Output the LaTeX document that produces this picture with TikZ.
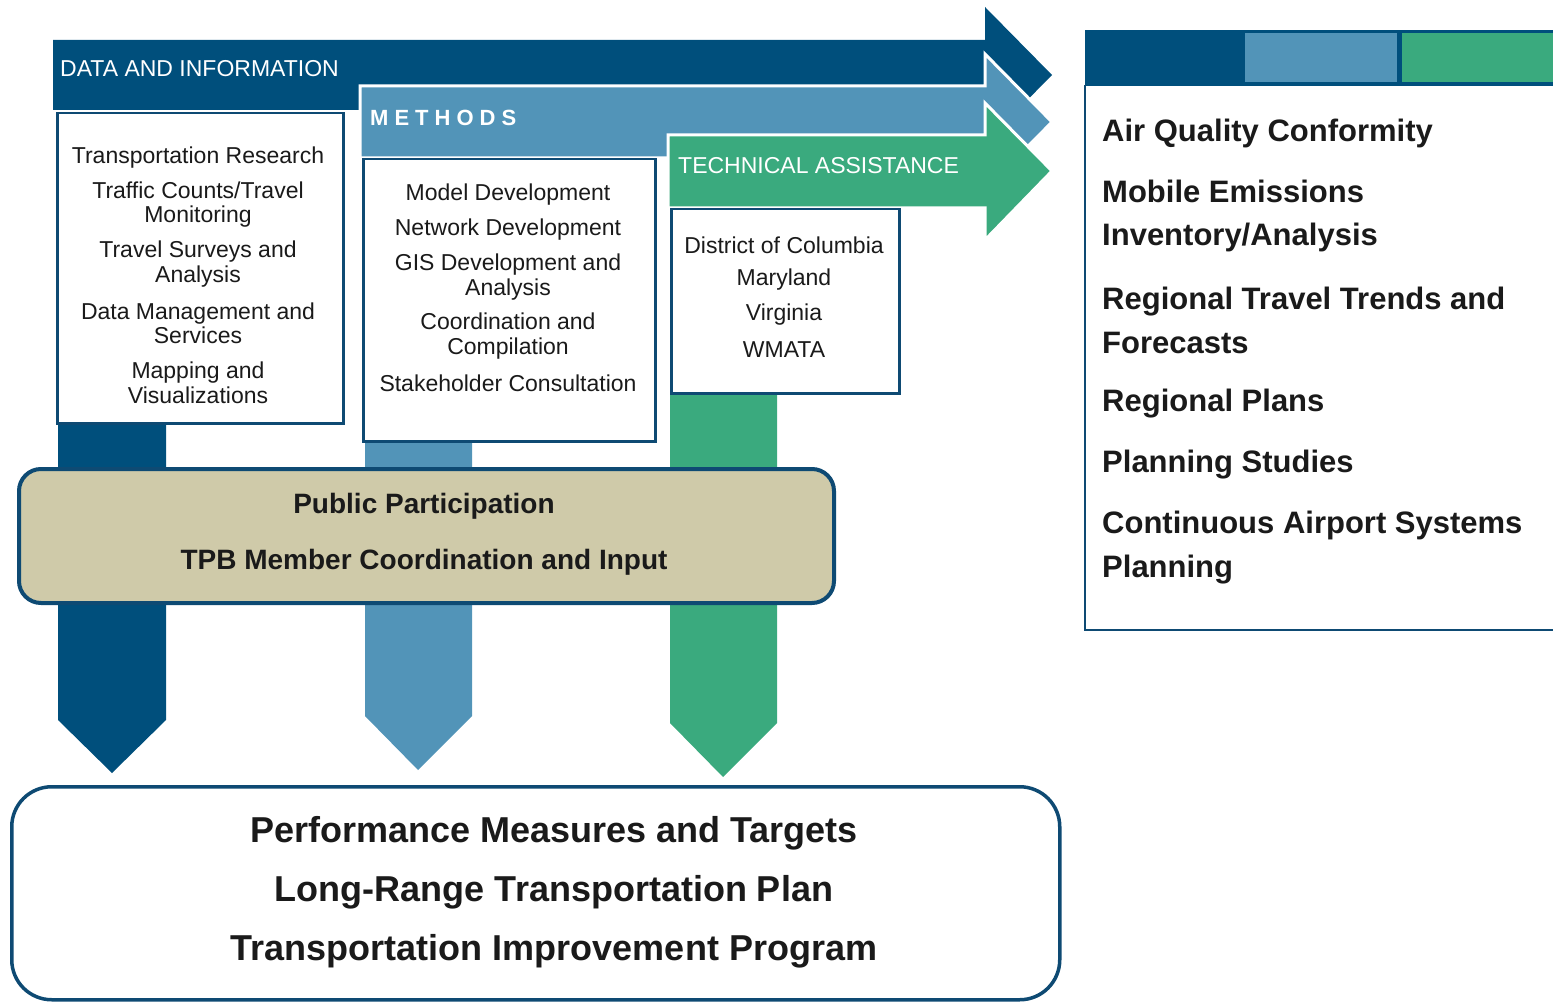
\documentclass[tikz,border=0pt]{standalone}
\usepackage{fontspec}
\setmainfont{Liberation Sans}
\definecolor{dblue}{HTML}{004F7C}
\definecolor{mblue}{HTML}{5294B8}
\definecolor{tagreen}{HTML}{3AAA7E}
\definecolor{pptan}{HTML}{CFCAA9}
\definecolor{bord}{HTML}{0E4A73}
\definecolor{txt}{HTML}{1A1A1A}
\tikzset{
  listbox/.style={draw=bord, line width=2.5, fill=white, anchor=north west, inner sep=0},
  item/.style={align=center, text=txt, font=\fontsize{23}{24.5}\selectfont, inner sep=0, yshift=-2.5pt},
  head/.style={anchor=west, text=white, font=\fontsize{23}{26}\selectfont, inner sep=0, yshift=-1.5pt},
  outitem/.style={anchor=west, align=left, text=txt, font=\bfseries\fontsize{31}{43.5}\selectfont, inner sep=0, yshift=-3pt},
  ppitem/.style={text=txt, font=\bfseries\fontsize{28}{30}\selectfont, inner sep=0, yshift=-3pt},
  botitem/.style={text=txt, font=\bfseries\fontsize{36}{40}\selectfont, inner sep=0, yshift=-3pt}
}
\begin{document}
\begin{tikzpicture}[x=1pt,y=-1pt]
\useasboundingbox (0,0) rectangle (1553,1003);
% downward arrows
\fill[dblue] (58,300) -- (166,300) -- (166,720) -- (112,773) -- (58,720) -- cycle;
\fill[mblue] (365,300) -- (472,300) -- (472,716) -- (418,770) -- (365,716) -- cycle;
\fill[tagreen] (670,300) -- (777,300) -- (777,723) -- (723,777) -- (670,723) -- cycle;
% horizontal arrows
\fill[dblue] (53,40) -- (985,40) -- (985,7) -- (1052,75) -- (985,143) -- (985,110) -- (53,110) -- cycle;
\filldraw[fill=mblue, draw=white, line width=3] (360,86) -- (985,86) -- (985,54) -- (1052,122) -- (985,190) -- (985,158) -- (360,158) -- cycle;
\filldraw[fill=tagreen, draw=white, line width=3] (668,135) -- (985,135) -- (985,103) -- (1052,171) -- (985,240) -- (985,208) -- (668,208) -- cycle;
% headers
\node[head] (hdata) at (60,67) {DATA AND INFORMATION};
\node[head, font=\bfseries\fontsize{22}{26}\selectfont] (hmeth) at (370,116) {M\kern6pt E\kern6pt T\kern6pt H\kern6pt O\kern6pt D\kern6pt S};
\node[head] (hta) at (678,164) {TECHNICAL ASSISTANCE};
% list boxes
\node[listbox, minimum width=286, minimum height=310] (databox) at (56,112) {};
\node[listbox, minimum width=292, minimum height=282] (methbox) at (362,158) {};
\node[listbox, minimum width=228, minimum height=184] (tabox) at (670,208) {};
% data items
\node[item] (d1) at (198,155) {Transportation Research};
\node[item] (d2) at (198,202) {Traffic Counts/Travel\\Monitoring};
\node[item] (d3) at (198,261.5) {Travel Surveys and\\Analysis};
\node[item] (d4) at (198,321) {Data Management and\\Services};
\node[item] (d5) at (198,380.5) {Mapping and\\Visualizations};
% method items
\node[item] (m1) at (508,192) {Model Development};
\node[item] (m2) at (508,227) {Network Development};
\node[item] (m3) at (508,274.5) {GIS Development and\\Analysis};
\node[item] (m4) at (508,333.5) {Coordination and\\Compilation};
\node[item] (m5) at (508,381) {Stakeholder Consultation};
% TA items
\node[item] (t1) at (784,243) {District of Columbia};
\node[item] (t2) at (784,277) {Maryland};
\node[item] (t3) at (784,312) {Virginia};
\node[item] (t4) at (784,347) {WMATA};
% public participation
\node[draw=bord, line width=4, fill=pptan, rounded corners=22, minimum width=815, minimum height=134, anchor=north west, inner sep=0] (ppbox) at (17,467) {};
\node[ppitem] (pp1) at (424,503) {Public Participation};
\node[ppitem] (pp2) at (424,559) {TPB Member Coordination and Input};
% bottom box
\node[draw=bord, line width=3.5, fill=white, rounded corners=40, minimum width=1048, minimum height=213, anchor=north west, inner sep=0] (botbox) at (10,785) {};
\node[botitem] (b1) at (554,830) {Performance Measures and Targets};
\node[botitem] (b2) at (554,889) {Long-Range Transportation Plan};
\node[botitem] (b3) at (554,948) {Transportation Improvement Program};
% right box
\fill[dblue] (1085,30) rectangle (1560,86);
\fill[mblue] (1245,33) rectangle (1397,82);
\fill[tagreen] (1402,33) rectangle (1560,82);
\draw[bord, line width=2] (1085,85) -- (1085,630) -- (1560,630);
\node[outitem] (o1) at (1102,130) {Air Quality Conformity};
\node[outitem] (o2) at (1102,213) {Mobile Emissions\\Inventory/Analysis};
\node[outitem] (o3) at (1102,317.5) {Regional Travel Trends and\\Forecasts};
\node[outitem] (o4) at (1102,401) {Regional Plans};
\node[outitem] (o5) at (1102,462) {Planning Studies};
\node[outitem] (o6) at (1102,544.5) {Continuous Airport Systems\\Planning};
\end{tikzpicture}
\end{document}
